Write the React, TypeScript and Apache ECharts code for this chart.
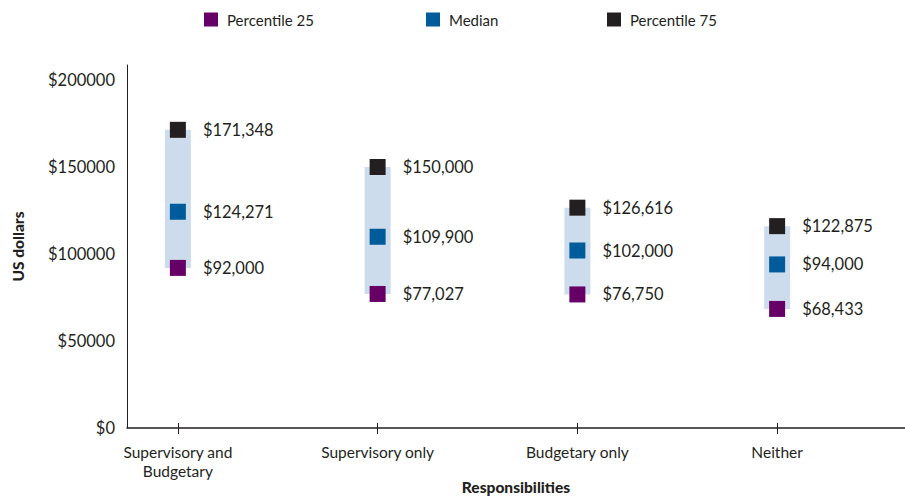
import React, { useEffect, useRef } from "react";
import * as echarts from "echarts";

const categories = ["Supervisory and\nBudgetary", "Supervisory only", "Budgetary only", "Neither"];
const p25Values = [92000, 77027, 76750, 68433];
const medianValues = [124271, 109900, 102000, 94000];
const p75Values = [171348, 150000, 126616, 116000];
const p25Labels = ["$92,000", "$77,027", "$76,750", "$68,433"];
const medianLabels = ["$124,271", "$109,900", "$102,000", "$94,000"];
const p75Labels = ["$171,348", "$150,000", "$126,616", "$122,875"];
const seriesNames = ["Percentile 25", "Median", "Percentile 75"];
const yMin = 0;
const yMax = 208600;
const yInterval = 50000;

const FONT = "Lato, 'Noto Sans', sans-serif";
const DARK = "#231f20";
const COLORS = ["#660066", "#005b9a", "#231f20"];

export default function App() {
  const ref = useRef<HTMLDivElement>(null);
  useEffect(() => {
    if (!ref.current) return;
    const chart = echarts.init(ref.current, null, { renderer: "svg" });
    const mkScatter = (name: string, vals: number[], labels: string[], color: string) => ({
      name,
      type: "scatter",
      xAxisIndex: 0,
      yAxisIndex: 0,
      symbol: "rect",
      symbolSize: 16,
      z: 5,
      itemStyle: { color, opacity: 1 },
      label: {
        show: true,
        position: "right",
        distance: 17,
        color: DARK,
        fontFamily: FONT,
        fontSize: 16.5,
        formatter: (p: any) => labels[p.dataIndex],
      },
      data: vals,
    });
    const legendPos = [199, 421, 602];
    chart.setOption({
      animation: false,
      textStyle: { fontFamily: FONT },
      legend: seriesNames.map((n, i) => ({
        data: [n],
        left: legendPos[i],
        top: 7,
        itemWidth: 14,
        itemHeight: 14,
        icon: "rect",
        selectedMode: false,
        textStyle: { fontFamily: FONT, fontSize: 15, color: DARK, padding: [0, 0, 0, 4] },
      })),
      grid: [
        { left: 78, width: 799, top: 65, bottom: 68, outerBoundsMode: "none", containLabel: false },
        { left: 127, right: 0, top: 65, bottom: 68, outerBoundsMode: "none", containLabel: false },
      ],
      xAxis: [
        {
          type: "category",
          gridIndex: 0,
          data: categories,
          offset: -5,
          axisLine: { show: false },
          axisTick: { show: true, alignWithLabel: true, length: 11, lineStyle: { color: DARK } },
          axisLabel: { margin: 19, color: DARK, fontFamily: FONT, fontSize: 15.5, lineHeight: 19 },
        },
        {
          type: "value",
          gridIndex: 1,
          min: 0,
          max: 1,
          axisLine: { show: true, lineStyle: { color: DARK, width: 1.5 } },
          axisTick: { show: false },
          axisLabel: { show: false },
          splitLine: { show: false },
          name: "Responsibilities",
          nameLocation: "middle",
          nameGap: 51,
          nameTextStyle: { fontFamily: FONT, fontWeight: 900, fontSize: 15.5, color: DARK },
        },
      ],
      yAxis: [
        {
          type: "value",
          gridIndex: 0,
          min: yMin,
          max: yMax,
          interval: yInterval,
          show: false,
          splitLine: { show: false },
        },
        {
          type: "value",
          gridIndex: 1,
          min: yMin,
          max: yMax,
          interval: yInterval,
          axisLine: { show: true, lineStyle: { color: DARK, width: 1 } },
          axisTick: { show: false },
          splitLine: { show: false },
          axisLabel: {
            showMaxLabel: false,
            margin: 12,
            color: DARK,
            fontFamily: FONT,
            fontSize: 16.5,
            formatter: (v: number) => "$" + v,
          },
          name: "US dollars",
          nameLocation: "middle",
          nameGap: 101,
          nameTextStyle: { fontFamily: FONT, fontWeight: 900, fontSize: 15.5, color: DARK },
        },
      ],
      series: [
        {
          type: "bar",
          stack: "band",
          xAxisIndex: 0,
          yAxisIndex: 0,
          barWidth: 26,
          itemStyle: { color: "transparent" },
          silent: true,
          data: p25Values,
        },
        {
          type: "bar",
          stack: "band",
          xAxisIndex: 0,
          yAxisIndex: 0,
          barWidth: 26,
          itemStyle: { color: "#cddcec" },
          silent: true,
          data: p75Values.map((v, i) => v - p25Values[i]),
        },
        mkScatter(seriesNames[0], p25Values, p25Labels, COLORS[0]),
        mkScatter(seriesNames[1], medianValues, medianLabels, COLORS[1]),
        mkScatter(seriesNames[2], p75Values, p75Labels, COLORS[2]),
      ],
    });
    return () => chart.dispose();
  }, []);
  return <div ref={ref} style={{ width: 905, height: 496, position: "absolute", left: 0, top: 0 }} />;
}
